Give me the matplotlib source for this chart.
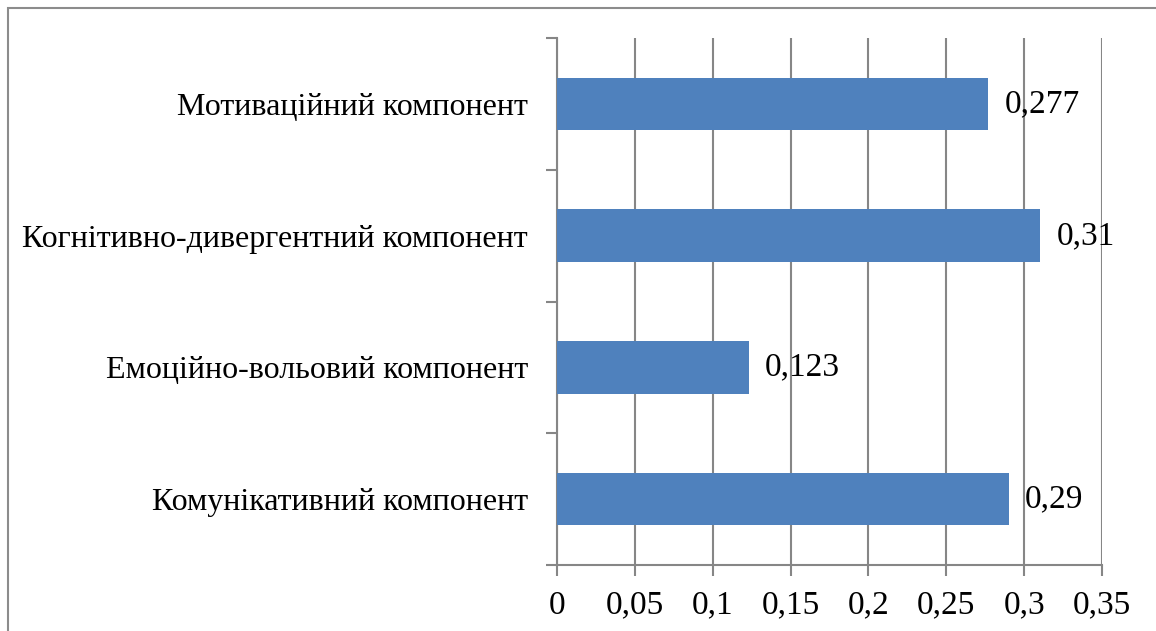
import matplotlib
matplotlib.use('Agg')
import matplotlib.pyplot as plt
from matplotlib.patches import Rectangle
from matplotlib.ticker import FixedLocator, FuncFormatter

# data, bottom to top as in the chart
categories = ['Комунікативний компонент', 'Емоційно-вольовий компонент',
              'Когнітивно-дивергентний компонент', 'Мотиваційний компонент']
values = [0.29, 0.123, 0.31, 0.277]
value_labels = ['0,29', '0,123', '0,31', '0,277']
xticks = [0, 0.05, 0.1, 0.15, 0.2, 0.25, 0.3, 0.35]
xtick_labels = ['0', '0,05', '0,1', '0,15', '0,2', '0,25', '0,3', '0,35']

plt.rcParams['font.family'] = ['Liberation Serif', 'DejaVu Serif']
W, H = 1156, 631
fig = plt.figure(figsize=(W / 100, H / 100), dpi=100)
fig.patch.set_facecolor('white')

# outer chart frame (cut off at right/bottom like the screenshot)
fig.patches.append(Rectangle((8 / W, -0.05), 1.1, 1 - 8 / H + 0.05,
                             transform=fig.transFigure, fill=False,
                             edgecolor='#8c8c8c', lw=1.5))

ax = fig.add_axes([557 / W, 1 - 565 / H, (1102 - 557) / W, (565 - 38) / H])
grid_c = '#868686'

pos = list(range(len(categories)))
ax.barh(pos, values, height=0.4, color='#4f81bd', zorder=3)
for p, v, lab in zip(pos, values, value_labels):
    ax.annotate(lab, (v, p), xytext=(12, 0), textcoords='offset points',
                va='center', ha='left', fontsize=24, zorder=4)

ax.set_xlim(0, 0.35)
ax.set_ylim(-0.5, len(categories) - 0.5)
ax.set_xticks(xticks)
ax.set_xticklabels(xtick_labels, fontsize=24)
ax.xaxis.grid(True, color=grid_c, lw=1.5, zorder=0)

# category labels centred, tick marks at the boundaries
ax.yaxis.set_major_locator(FixedLocator([p - 0.5 for p in pos] + [len(pos) - 0.5]))
ax.yaxis.set_major_formatter(FuncFormatter(lambda v, i: ''))
ax.yaxis.set_minor_locator(FixedLocator(pos))
ax.set_yticklabels(categories, minor=True, fontsize=23)
ax.tick_params(axis='y', which='minor', length=0, pad=21)
ax.tick_params(axis='y', which='major', length=8, width=1.5, color=grid_c)
ax.tick_params(axis='x', length=8, width=1.5, color=grid_c, pad=10)

for s in ('top', 'right'):
    ax.spines[s].set_visible(False)
for s in ('left', 'bottom'):
    ax.spines[s].set_color(grid_c)
    ax.spines[s].set_linewidth(1.5)

fig.savefig('out.png', dpi=100)
